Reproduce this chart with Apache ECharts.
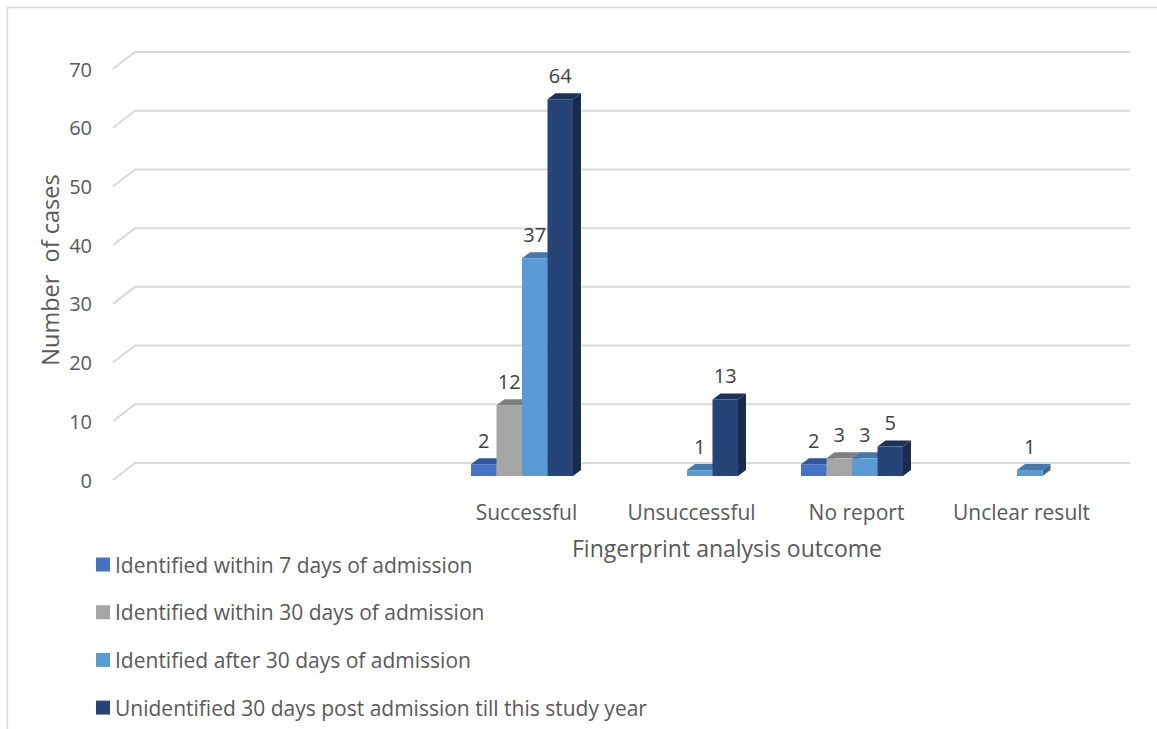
<!DOCTYPE html>
<html>
<head>
<meta charset="utf-8">
<script src="https://cdn.jsdelivr.net/npm/echarts@6/dist/echarts.min.js"></script>
<style>
html, body { margin: 0; padding: 0; background: #fff; }
#main { width: 1157px; height: 729px; }
</style>
</head>
<body>
<div id="main"></div>
<script>
// chart data
var categories = ['', '', 'Successful', 'Unsuccessful', 'No report', 'Unclear result'];
var seriesNames = [
    'Identified within 7 days of admission',
    'Identified within 30 days of admission',
    'Identified after 30 days of admission',
    'Unidentified 30 days post admission till this study year'
];
var within7 = [null, null, 2, null, 2, null];
var within30 = [null, null, 12, null, 3, null];
var after30 = [null, null, 37, 1, 3, 1];
var unidentified = [null, null, 64, 13, 5, null];
var yTicks = [0, 10, 20, 30, 40, 50, 60, 70];

// front / top / side colours of each 3d bar
var faces = [
    ['#4472C4', '#30579b', '#2b4c88'],
    ['#A5A5A5', '#7f7f7f', '#6f6f6f'],
    ['#5B9BD5', '#4479ab', '#3b6a96'],
    ['#264478', '#1c3359', '#192c4e']
];
var FONT = '"Open Sans"';
var DX = 8, DY = -6;

function toPairs(arr) {
    var out = [];
    arr.forEach(function (v, i) {
        if (v !== null) out.push([i, v]);
    });
    return out;
}

function barRenderer(idx) {
    var c = faces[idx];
    return function (params, api) {
        var v = api.value(1);
        if (v == null || isNaN(v)) return;
        var topPt = api.coord([api.value(0), v]);
        var basePt = api.coord([api.value(0), 0]);
        var band = api.size([1, 0])[0];
        var w = band * 0.1545;
        var x = topPt[0] - 2 * w + idx * w;
        var yt = topPt[1], yb = basePt[1];
        return {
            type: 'group',
            children: [{
                type: 'polygon',
                shape: { points: [[x + w, yt], [x + w + DX, yt + DY], [x + w + DX, yb + DY], [x + w, yb]] },
                style: { fill: c[2] }
            }, {
                type: 'polygon',
                shape: { points: [[x, yt], [x + DX, yt + DY], [x + w + DX, yt + DY], [x + w, yt]] },
                style: { fill: c[1] }
            }, {
                type: 'rect',
                shape: { x: x, y: yt, width: w, height: yb - yt },
                style: { fill: c[0] }
            }, {
                type: 'text',
                x: x + w / 2,
                y: yt + DY - 8,
                style: {
                    text: String(v),
                    align: 'center',
                    verticalAlign: 'bottom',
                    fill: '#404040',
                    font: '20px ' + FONT
                }
            }]
        };
    };
}

var chart = echarts.init(document.getElementById('main'), null, { renderer: 'svg' });

var series = [{
    // slanted gridlines of the back wall
    type: 'custom',
    coordinateSystem: 'cartesian2d',
    xAxisIndex: 0,
    yAxisIndex: 0,
    z: 1,
    silent: true,
    data: yTicks.map(function (v) { return [0, v]; }),
    renderItem: function (params, api) {
        var y = api.coord([0, api.value(1)])[1];
        var cs = params.coordSys;
        var x0 = cs.x - 1;
        return {
            type: 'polyline',
            shape: { points: [[x0, y], [x0 + 22, y - 17], [cs.x + cs.width + 26, y - 17]] },
            style: { stroke: '#d9d9d9', lineWidth: 2, fill: null }
        };
    }
}];

[within7, within30, after30, unidentified].forEach(function (arr, i) {
    series.push({
        name: seriesNames[i],
        type: 'custom',
        coordinateSystem: 'cartesian2d',
        xAxisIndex: 1,
        yAxisIndex: 1,
        z: 2 + i,
        itemStyle: { color: faces[i][0] },
        data: toPairs(arr),
        renderItem: barRenderer(i)
    });
});

chart.setOption({
    animation: false,
    backgroundColor: '#fff',
    grid: [
        { left: 114, top: 69, width: 990, height: 411 },
        { left: 109.5, top: 64, width: 990, height: 412 }
    ],
    xAxis: [{
        type: 'category',
        gridIndex: 0,
        data: categories,
        axisLine: { show: false },
        axisTick: { show: false },
        axisLabel: {
            interval: 0,
            margin: 21,
            color: '#595959',
            fontFamily: FONT,
            fontSize: 21
        }
    }, {
        type: 'category',
        gridIndex: 1,
        data: categories,
        show: false
    }],
    yAxis: [{
        type: 'value',
        gridIndex: 0,
        min: 0,
        max: 70,
        interval: 10,
        axisLine: { show: false },
        axisTick: { show: false },
        splitLine: { show: false },
        axisLabel: {
            margin: 22,
            color: '#595959',
            fontFamily: FONT,
            fontSize: 20
        }
    }, {
        type: 'value',
        gridIndex: 1,
        min: 0,
        max: 70,
        show: false,
        splitLine: { show: false }
    }],
    legend: {
        data: seriesNames,
        orient: 'vertical',
        left: 91,
        top: 549,
        icon: 'rect',
        itemWidth: 14,
        itemHeight: 14,
        itemGap: 26.7,
        selectedMode: false,
        textStyle: {
            color: '#595959',
            fontFamily: FONT,
            fontSize: 21,
            lineHeight: 21
        }
    },
    graphic: [{
        type: 'rect',
        shape: { x: 7.5, y: 7.5, width: 1170, height: 740 },
        style: { fill: null, stroke: '#d9d9d9', lineWidth: 1.5 },
        silent: true
    }, {
        type: 'text',
        x: 727,
        y: 548,
        style: {
            text: 'Fingerprint analysis outcome',
            align: 'center',
            verticalAlign: 'middle',
            fill: '#595959',
            font: '23px ' + FONT
        }
    }, {
        type: 'text',
        x: 50,
        y: 270,
        rotation: Math.PI / 2,
        style: {
            text: 'Number  of cases',
            align: 'center',
            verticalAlign: 'middle',
            fill: '#595959',
            font: '23.5px ' + FONT
        }
    }],
    series: series
});
</script>
</body>
</html>
